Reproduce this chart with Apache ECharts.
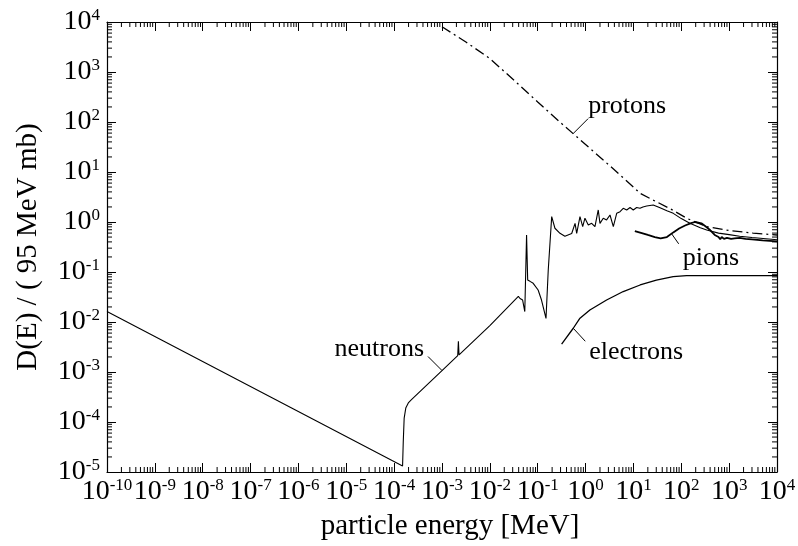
<!DOCTYPE html>
<html>
<head>
<meta charset="utf-8">
<script src="https://cdn.jsdelivr.net/npm/echarts@6/dist/echarts.min.js"></script>
<style>
  html, body { margin: 0; padding: 0; background: #ffffff; }
  #chart { width: 798px; height: 546px; }
</style>
</head>
<body>
<div id="chart"></div>
<script>
// Energy [MeV] and damage function D(E) / (95 MeV mb) for each particle type
const NEUTRON_E = [1e-10, 1.5e-4, 1.55e-4, 1.62e-4, 1.75e-4, 2.0e-4, 2.3e-4, 1e-3, 2.13e-3, 2.2e-3, 2.27e-3, 1e-2,
  0.0394, 0.0427, 0.0484, 0.0537, 0.0585, 0.0617, 0.069, 0.0805, 0.102, 0.120, 0.149, 0.166, 0.196, 0.229, 0.292, 0.37,
  0.513, 0.603, 0.652, 0.764, 0.871, 0.97, 1.14, 1.34, 1.57, 1.84, 2.0, 2.34, 2.75, 3.24, 3.8, 4.47, 5.25, 6.12, 7.24,
  8.5, 9.93, 11.7, 13.7, 15.8, 18.9, 25.9, 35, 50, 68, 100, 151, 250, 340, 600, 1000, 1660, 3000, 10000];
const NEUTRON_D = [0.0162, 1.32e-5, 4e-5, 1.2e-4, 1.9e-4, 2.45e-4, 2.8e-4, 1.07e-3, 2.13e-3, 4.1e-3, 2.2e-3, 8.5e-3,
  0.0324, 0.0295, 0.0275, 0.0162, 0.55, 0.069, 0.065, 0.0594, 0.0437, 0.0275, 0.0118, 0.11, 1.28, 0.75, 0.594, 0.52,
  0.59, 0.94, 0.594, 1.28, 0.805, 1.19, 0.87, 0.94, 0.805, 1.74, 0.94, 1.19, 1.10, 1.38, 0.805, 1.49, 1.61, 1.88, 1.74,
  1.95, 1.74, 1.95, 1.88, 2.0, 2.09, 2.19, 1.95, 1.68, 1.49, 1.17, 0.94, 0.77, 0.69, 0.6, 0.56, 0.52, 0.49, 0.44];

const PROTON_E = [1e-3, 3.16e-3, 1e-2, 0.0316, 0.1, 0.316, 1, 3.16, 10, 13.8, 25.7, 57.5, 129, 339, 1000, 3162, 10000];
const PROTON_D = [8050, 3980, 1860, 690, 251, 93, 35.5, 13.5, 5.0, 3.75, 2.75, 1.86, 1.19, 0.805, 0.676, 0.60, 0.55];

const PION_E = [10.7, 15, 20, 28, 37, 50, 68, 90, 120, 160, 195, 263, 330, 400, 500, 600, 650, 700, 780, 900, 1100,
  1300, 1660, 2200, 3000, 5000, 10000];
const PION_D = [0.66, 0.6, 0.55, 0.5, 0.47, 0.5, 0.62, 0.74, 0.85, 0.95, 1.0, 0.94, 0.8, 0.69, 0.55, 0.5, 0.45, 0.5,
  0.46, 0.48, 0.46, 0.47, 0.48, 0.46, 0.45, 0.43, 0.41];

const ELECTRON_E = [0.316, 0.553, 0.764, 1.23, 2.75, 6.12, 13.8, 30.2, 67.6, 129, 10000];
const ELECTRON_D = [0.0036, 0.0075, 0.0119, 0.0174, 0.0275, 0.0407, 0.055, 0.069, 0.0805, 0.085, 0.085];

// Curve labels and the curve point each label's leader line starts from
const LABEL_TEXT = ['protons', 'neutrons', 'electrons', 'pions'];
const LABEL_E = [0.55, 1e-3, 0.553, 63];
const LABEL_D = [58.6, 1.07e-3, 0.0075, 0.58];

// Axis ranges
const X_MIN = 1e-10, X_MAX = 1e4;
const Y_MIN = 1e-5, Y_MAX = 1e4;

// Leader line end and text offsets (px) relative to the curve point
const LABEL_LAYOUT = [
  { ptr: [15, -15], txt: [15, -27], align: 'left' },
  { ptr: [-14, -14], txt: [-18, -21], align: 'right' },
  { ptr: [12, 13], txt: [16, 24], align: 'left' },
  { ptr: [7, 10], txt: [11, 24], align: 'left' }
];

const SERIF = '"Liberation Serif", "Times New Roman", serif';
const zip = (xs, ys) => xs.map((x, i) => [x, ys[i]]);

// minor ticks at 2..9 within each decade
function decadeSubticks(lo, hi) {
  const out = [];
  for (let k = Math.round(Math.log10(lo)); k < Math.round(Math.log10(hi)); k++) {
    for (let m = 2; m <= 9; m++) out.push(m * Math.pow(10, k));
  }
  return out;
}
const X_SUB = decadeSubticks(X_MIN, X_MAX);
const Y_SUB = decadeSubticks(Y_MIN, Y_MAX);
const MAJOR_LEN = 9, MINOR_LEN = 5;

function powLabel(v) {
  const e = Math.round(Math.log10(v));
  return '{b|10}{s|' + e + '}';
}
const labelRich = {
  b: { fontSize: 28, fontFamily: SERIF, color: '#000', lineHeight: 30 },
  s: { fontSize: 17, fontFamily: SERIF, color: '#000', verticalAlign: 'top', lineHeight: 30 }
};

const axisCommon = {
  type: 'log',
  logBase: 10,
  interval: 1,
  axisLine: { show: true, lineStyle: { color: '#000', width: 1.2 } },
  axisTick: { show: true, inside: true, length: MAJOR_LEN, lineStyle: { color: '#000', width: 1 } },
  minorTick: { show: false },
  splitLine: { show: false },
  minorSplitLine: { show: false }
};

const chart = echarts.init(document.getElementById('chart'));

const lineBase = { type: 'line', showSymbol: false, symbol: 'none', silent: true, animation: false, clip: true };

chart.setOption({
  animation: false,
  backgroundColor: '#ffffff',
  grid: { left: 107, right: 21, top: 22, bottom: 74, containLabel: false, outerBoundsMode: 'none' },
  xAxis: [
    Object.assign({}, axisCommon, {
      position: 'bottom', min: X_MIN, max: X_MAX, splitNumber: 14,
      axisLabel: { show: true, margin: 5, interval: 0, hideOverlap: false, formatter: powLabel, rich: labelRich,
                   showMinLabel: true, showMaxLabel: true },
      name: 'particle energy [MeV]', nameLocation: 'middle', nameGap: 40,
      nameTextStyle: { fontFamily: SERIF, fontSize: 29, color: '#000', padding: [0, 0, 0, 16] }
    }),
    Object.assign({}, axisCommon, {
      position: 'top', min: X_MIN, max: X_MAX, splitNumber: 14, axisLabel: { show: false }
    })
  ],
  yAxis: [
    Object.assign({}, axisCommon, {
      position: 'left', min: Y_MIN, max: Y_MAX, splitNumber: 9,
      axisLabel: { show: true, margin: 7, interval: 0, hideOverlap: false, formatter: powLabel, rich: labelRich,
                   showMinLabel: true, showMaxLabel: true },
      name: 'D(E) / ( 95 MeV mb)', nameLocation: 'middle', nameGap: 64,
      nameTextStyle: { fontFamily: SERIF, fontSize: 29, color: '#000' }
    }),
    Object.assign({}, axisCommon, {
      position: 'right', min: Y_MIN, max: Y_MAX, splitNumber: 9, axisLabel: { show: false }
    })
  ],
  series: [
    Object.assign({}, lineBase, {
      name: 'neutrons', data: zip(NEUTRON_E, NEUTRON_D),
      lineStyle: { color: '#000', width: 1.1 }
    }),
    Object.assign({}, lineBase, {
      name: 'protons', data: zip(PROTON_E, PROTON_D),
      lineStyle: { color: '#000', width: 1.3, type: [10, 4, 2, 4] }
    }),
    Object.assign({}, lineBase, {
      name: 'pions', data: zip(PION_E, PION_D),
      lineStyle: { color: '#000', width: 1.8 }
    }),
    Object.assign({}, lineBase, {
      name: 'electrons', data: zip(ELECTRON_E, ELECTRON_D),
      lineStyle: { color: '#000', width: 1.3 }
    }),
    {
      // minor ticks along bottom and top frame
      type: 'custom', silent: true, clip: false,
      data: X_SUB.map(v => [v, Y_MIN]),
      encode: { x: 0, y: 1 },
      renderItem: (params, api) => {
        const v = api.value(0);
        const b = api.coord([v, Y_MIN]);
        const t = api.coord([v, Y_MAX]);
        const st = { stroke: '#000', lineWidth: 1 };
        return { type: 'group', children: [
          { type: 'line', shape: { x1: b[0], y1: b[1], x2: b[0], y2: b[1] - MINOR_LEN }, style: st },
          { type: 'line', shape: { x1: t[0], y1: t[1], x2: t[0], y2: t[1] + MINOR_LEN }, style: st }
        ] };
      }
    },
    {
      // minor ticks along left and right frame
      type: 'custom', silent: true, clip: false,
      data: Y_SUB.map(v => [X_MIN, v]),
      encode: { x: 0, y: 1 },
      renderItem: (params, api) => {
        const v = api.value(1);
        const l = api.coord([X_MIN, v]);
        const r = api.coord([X_MAX, v]);
        const st = { stroke: '#000', lineWidth: 1 };
        return { type: 'group', children: [
          { type: 'line', shape: { x1: l[0], y1: l[1], x2: l[0] + MINOR_LEN, y2: l[1] }, style: st },
          { type: 'line', shape: { x1: r[0], y1: r[1], x2: r[0] - MINOR_LEN, y2: r[1] }, style: st }
        ] };
      }
    },
    {
      // curve labels with short leader lines
      type: 'custom', silent: true, clip: false,
      data: zip(LABEL_E, LABEL_D),
      encode: { x: 0, y: 1 },
      renderItem: (params, api) => {
        const i = params.dataIndex;
        const lay = LABEL_LAYOUT[i];
        const p = api.coord([api.value(0), api.value(1)]);
        return { type: 'group', children: [
          { type: 'line', shape: { x1: p[0], y1: p[1], x2: p[0] + lay.ptr[0], y2: p[1] + lay.ptr[1] },
            style: { stroke: '#000', lineWidth: 1 } },
          { type: 'text', x: p[0] + lay.txt[0], y: p[1] + lay.txt[1],
            style: { text: LABEL_TEXT[i], font: '26px ' + SERIF, fill: '#000',
                     align: lay.align, verticalAlign: 'middle' } }
        ] };
      }
    }
  ]
});
</script>
</body>
</html>
